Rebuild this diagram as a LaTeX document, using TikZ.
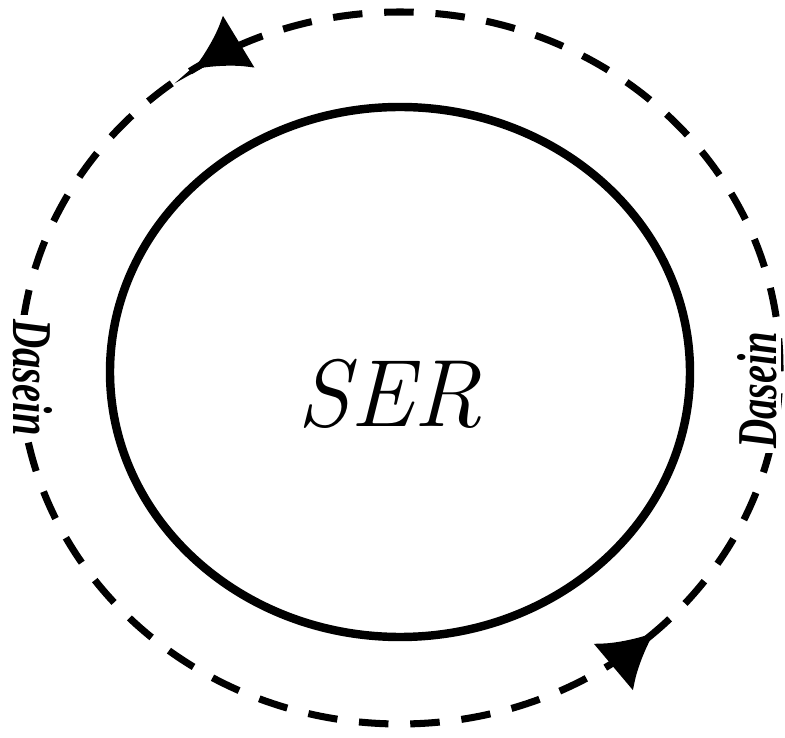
\documentclass[tikz,border=0pt]{standalone}
\usepackage{fontspec}
\newfontfamily\labelfont[FakeStretch=0.72]{Liberation Serif}
\usetikzlibrary{arrows.meta,calc}

\begin{document}
\begin{tikzpicture}[x=0.025cm,y=0.025cm,
  cycle/.style={black,line width=5pt,dash pattern=on 21pt off 15.5pt},
  cyclearrow/.style={black,line width=5pt,-{Latex[length=38pt,width=44pt]}},
  ring/.style={black,line width=6pt},
  dasein/.style={fill=white,inner sep=3pt,font=\labelfont\bfseries\itshape\fontsize{40}{40}\selectfont}]
\useasboundingbox (0,0) rectangle (785,738);
% Outer cycle
\draw[cycle] (400,370) ellipse [x radius=380, y radius=356];
\draw[cyclearrow] ($(400,370)+(121:380 and 356)$) arc [start angle=121, end angle=123, x radius=380, y radius=356];
\draw[cyclearrow] ($(400,370)+(-50:380 and 356)$) arc [start angle=-50, end angle=-48, x radius=380, y radius=356];
% Inner circle
\draw[ring] (400,366) ellipse [x radius=290, y radius=265];
\node[font=\itshape\fontsize{68}{68}\selectfont] (ser) at (390,344) {SER};
% Labels
\node[dasein,rotate=-90] (daseinleft) at (33,360) {Dasein};
\node[dasein,rotate=90] (daseinright) at (757,348) {Dasein};
\end{tikzpicture}
\end{document}
